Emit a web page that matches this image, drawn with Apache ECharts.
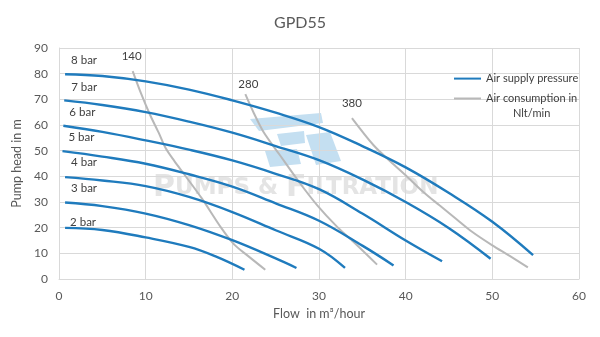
<!DOCTYPE html>
<html>
<head>
<meta charset="utf-8">
<script src="https://cdn.jsdelivr.net/npm/echarts@6/dist/echarts.min.js"></script>
<style>
  html, body { margin: 0; padding: 0; background: #ffffff; }
  #chart { width: 600px; height: 337px; }
</style>
</head>
<body>
<div id="chart"></div>
<script>
// GPD55 pump performance: head vs flow for each air supply pressure,
// with iso-lines of air consumption (Nlt/min).

const pressureLabels = ['8 bar', '7 bar', '6 bar', '5 bar', '4 bar', '3 bar', '2 bar'];

// [flow m3/h, head m]
const head8bar = [[0.7, 79.8], [5, 79.1], [10, 77], [15, 73.8], [20, 69.6], [25, 64.8], [30, 59.2], [35, 51.8], [40, 43.5], [45, 33.5], [50, 22.3], [54.7, 9.3]];
const head7bar = [[0.6, 69.6], [5, 67.8], [10, 65], [15, 61.3], [20, 57], [25, 51.8], [30, 46.3], [35, 38.8], [40, 30], [45, 19.8], [49.8, 7.9]];
const head6bar = [[0.5, 59.7], [5, 57.3], [10, 54], [15, 50.4], [20, 46.2], [25, 41], [30, 35], [35, 25.5], [40, 15], [44.2, 6.9]];
const head5bar = [[0.4, 49.8], [5, 47.7], [10, 44.9], [15, 40.8], [20, 36], [25, 29.5], [30, 22.7], [35, 13], [38.6, 5.3]];
const head4bar = [[0.7, 39.7], [5, 38.4], [10, 36.2], [15, 32], [20, 26.1], [25, 19], [30, 11.8], [33, 4.3]];
const head3bar = [[0.7, 29.8], [5, 28.4], [10, 25.5], [15, 21], [20, 15.1], [25, 8], [27.4, 4.3]];
const head2bar = [[0.7, 19.9], [5, 19.1], [10, 16.2], [15, 12.5], [18, 8.9], [21.4, 3.6]];

const airLabels = ['140', '280', '380'];
const air140 = [[8.5, 81], [9.5, 72], [10.5, 64], [11.5, 57], [12.3, 51], [13.3, 46], [14.4, 41], [16.5, 31.3], [18.7, 20], [20.2, 13.5], [21.8, 9], [23.8, 3.6]];
const air280 = [[21.5, 72], [22.5, 64.5], [23.6, 57.3], [25.5, 48.2], [27.7, 37.8], [29.8, 28.7], [32.1, 20.3], [34, 14.4], [36.7, 5.6]];
const air380 = [[33.8, 62.7], [36.3, 52.1], [38.3, 45.6], [40, 40.4], [42, 34], [43.9, 28.7], [45.8, 23.5], [47.7, 18.3], [50, 13.1], [52, 9], [54.1, 4.5]];

const flowTicks = { min: 0, max: 60, step: 10 };
const headTicks = { min: 0, max: 90, step: 10 };

const pressureCurves = [head8bar, head7bar, head6bar, head5bar, head4bar, head3bar, head2bar];
const airCurves = [air140, air280, air380];

const SUPPLY = 'Air supply pressure';
const CONSUMPTION = 'Air consumption in Nlt/min';
const FONT = 'Lato, "Open Sans", sans-serif';
const TEXT = '#595959';

// pixel offsets of the curve captions from each curve's first point
const pressureLabelOffsets = [[19, -14], [20, -13], [19, -13], [19, -14], [19, -15], [19, -14], [18, -6]];
const airLabelOffsets = [[-1, -15], [3, -10], [0, -15]];

function caption(point, text, offset) {
  return {
    symbol: 'circle',
    symbolSize: 0,
    silent: true,
    data: [{ coord: point, value: text }],
    label: {
      show: true,
      position: 'inside',
      formatter: '{c}',
      offset: offset,
      color: '#404040',
      fontSize: 11.5,
      fontFamily: FONT
    }
  };
}

const series = [];
pressureCurves.forEach(function (pts, i) {
  series.push({
    name: SUPPLY,
    type: 'line',
    data: pts,
    smooth: 0.4,
    symbol: 'none',
    z: 4,
    lineStyle: { color: '#1f7bbd', width: 2.4 },
    itemStyle: { color: '#1f7bbd' },
    markPoint: caption(pts[0], pressureLabels[i], pressureLabelOffsets[i])
  });
});
airCurves.forEach(function (pts, i) {
  series.push({
    name: CONSUMPTION,
    type: 'line',
    data: pts,
    smooth: 0.3,
    symbol: 'none',
    z: 3,
    lineStyle: { color: '#b8b8b8', width: 2 },
    itemStyle: { color: '#b8b8b8' },
    markPoint: caption(pts[0], airLabels[i], airLabelOffsets[i])
  });
});

const legendBase = {
  orient: 'vertical',
  left: 453,
  padding: 0,
  itemWidth: 27,
  itemHeight: 14,
  itemStyle: { opacity: 0 }
};

const chart = echarts.init(document.getElementById('chart'), null, { renderer: 'canvas' });

chart.setOption({
  animation: false,
  backgroundColor: '#ffffff',
  title: {
    text: 'GPD55',
    left: 'center',
    top: 10,
    textStyle: { color: TEXT, fontSize: 16, fontWeight: 'normal', fontFamily: FONT }
  },
  legend: [
    Object.assign({}, legendBase, {
      data: [SUPPLY],
      top: 73,
      textStyle: { color: '#404040', fontSize: 11, fontFamily: FONT }
    }),
    Object.assign({}, legendBase, {
      data: [CONSUMPTION],
      top: 78,
      formatter: function () {
        return '{e| }\n{a|Air consumption in}\n{b|Nlt/min}';
      },
      textStyle: {
        color: '#404040', fontSize: 11, fontFamily: FONT,
        rich: {
          e: { lineHeight: 15, fontSize: 11, fontFamily: FONT },
          a: { lineHeight: 15, fontSize: 11, fontFamily: FONT, color: '#404040' },
          b: { lineHeight: 15, fontSize: 11, fontFamily: FONT, color: '#404040', align: 'center' }
        }
      }
    })
  ],
  grid: { left: 59, right: 21, top: 48, bottom: 58, containLabel: false },
  xAxis: {
    type: 'value',
    min: flowTicks.min,
    max: flowTicks.max,
    interval: flowTicks.step,
    name: 'Flow  in m³/hour',
    nameLocation: 'middle',
    nameGap: 28,
    nameTextStyle: { color: TEXT, fontSize: 12.5, fontFamily: FONT },
    axisLine: { lineStyle: { color: '#d9d9d9', width: 1 } },
    axisTick: { show: false },
    axisLabel: { color: TEXT, fontSize: 12, fontFamily: FONT, margin: 11 },
    splitLine: { show: true, lineStyle: { color: '#d9d9d9', width: 1 } }
  },
  yAxis: {
    type: 'value',
    min: headTicks.min,
    max: headTicks.max,
    interval: headTicks.step,
    name: 'Pump head in m',
    nameLocation: 'middle',
    nameGap: 31,
    nameTextStyle: { color: TEXT, fontSize: 12.5, fontFamily: FONT },
    axisLine: { show: true, lineStyle: { color: '#d9d9d9', width: 1 } },
    axisTick: { show: false },
    axisLabel: { color: TEXT, fontSize: 12, fontFamily: FONT, margin: 11 },
    splitLine: { show: true, lineStyle: { color: '#d9d9d9', width: 1 } }
  },
  graphic: [
    // faint company mark behind the curves
    {
      type: 'group',
      z: 1,
      silent: true,
      children: [
        { type: 'polygon', shape: { points: [[250, 119], [321, 113], [323, 123], [259, 131]] }, style: { fill: '#c4dff1' } },
        { type: 'polygon', shape: { points: [[277, 134], [304, 131], [305, 143], [281, 146]] }, style: { fill: '#c4dff1' } },
        { type: 'polygon', shape: { points: [[306, 135], [330, 132], [341, 161], [316, 165]] }, style: { fill: '#c4dff1' } },
        { type: 'polygon', shape: { points: [[265, 151], [297, 149], [301, 164], [270, 167]] }, style: { fill: '#c4dff1' } },
        {
          type: 'text',
          x: 153,
          y: 203,
          style: {
            text: '{big|P}{sm|UMPS & }{big|F}{sm|ILTRATION}',
            verticalAlign: 'bottom',
            rich: {
              big: { fontSize: 30, fontWeight: 'bold', fontFamily: '"DejaVu Sans", sans-serif', fill: '#e4e4e4', lineHeight: 30 },
              sm: { fontSize: 23, fontWeight: 'bold', fontFamily: '"DejaVu Sans", sans-serif', fill: '#e4e4e4', lineHeight: 30 }
            }
          }
        }
      ]
    }
  ],
  series: series
});
</script>
</body>
</html>
